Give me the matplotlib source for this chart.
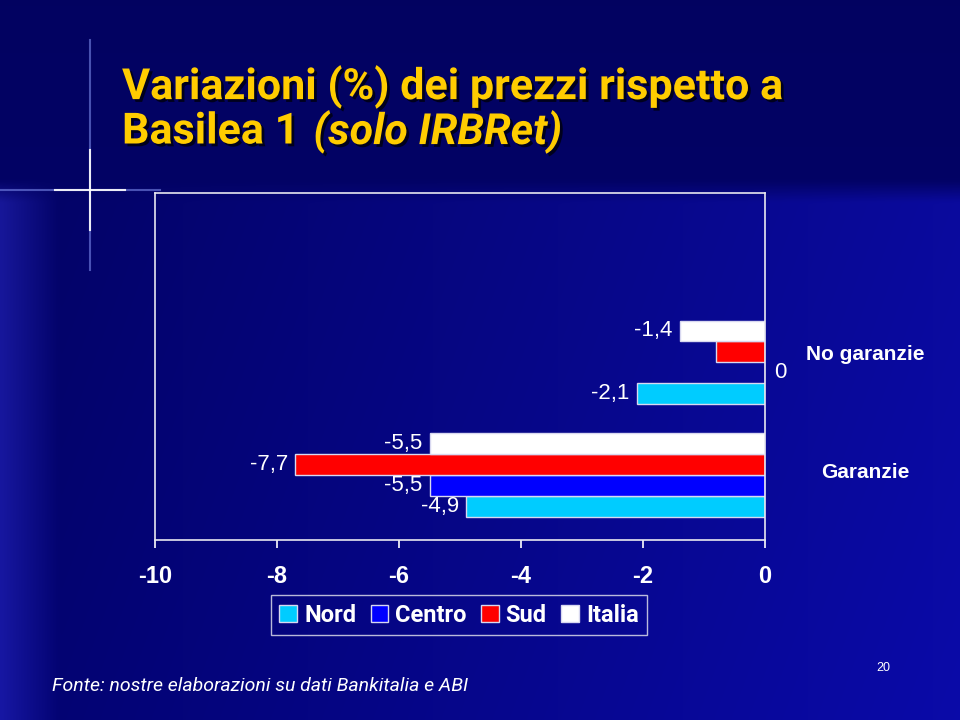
import numpy as np
import matplotlib
matplotlib.use('Agg')
import matplotlib.pyplot as plt
import matplotlib.patheffects as pe
from matplotlib.patches import Patch

# data
categories = ['Garanzie', 'No garanzie']
series = ['Nord', 'Centro', 'Sud', 'Italia']
nord = [-4.9, -2.1]
centro = [-5.5, 0.0]
sud = [-7.7, -0.8]
italia = [-5.5, -1.4]
nord_lab = ['-4,9', '-2,1']
centro_lab = ['-5,5', '0']
sud_lab = ['-7,7', '']
italia_lab = ['-5,5', '-1,4']
xticks = [-10, -8, -6, -4, -2, 0]

colors = ['#00ccff', '#0000ff', '#ff0000', '#ffffff']
NARROW = ['Roboto', 'DejaVu Sans']
ARIAL = ['Liberation Sans', 'DejaVu Sans']

fig = plt.figure(figsize=(9.6, 7.2), dpi=100)

# slide background
bg = fig.add_axes([0, 0, 1, 1])
bg.set_axis_off()
yy, xx = np.mgrid[0:1:240j, 0:1:320j]
low = np.clip((yy - 0.25) / 0.03, 0, 1)
r = 0.01 + 0.03 * xx * low
g = 0.01 + 0.03 * xx * low
b = 0.38 + 0.06 * yy + 0.22 * xx * low
left = np.clip((0.06 - xx) / 0.06, 0, 1) * low
r = r + 0.08 * left
g = g + 0.08 * left
b = b + 0.2 * left
img = np.dstack([r, g, b]).clip(0, 1)
bg.imshow(img, extent=[0, 960, 720, 0], aspect='auto', interpolation='bicubic')
bg.set_xlim(0, 960)
bg.set_ylim(720, 0)
# decorative cross
bg.plot([90, 90], [40, 270], color='#8fa0ff', lw=1.5, alpha=0.5)
bg.plot([0, 160], [190, 190], color='#8fa0ff', lw=1.5, alpha=0.5)
bg.plot([90, 90], [150, 230], color='white', lw=1.5, alpha=0.9)
bg.plot([55, 125], [190, 190], color='white', lw=1.5, alpha=0.9)

# chart
ax = fig.add_axes([155 / 960, 1 - 540 / 720, 610 / 960, 347 / 720])
ax.set_facecolor('none')
h = 0.185
offsets = [-1.5, -0.5, 0.5, 1.5]
y = np.arange(len(categories))
all_vals = [nord, centro, sud, italia]
all_labs = [nord_lab, centro_lab, sud_lab, italia_lab]
for vals, labs, col, off, name in zip(all_vals, all_labs, colors, offsets, series):
    pos = y + off * h
    ax.barh(pos, vals, height=h, color=col, edgecolor='#d8d8f0', linewidth=1, label=name)
    for p, v, t in zip(pos, vals, labs):
        if v < 0:
            ax.text(v - 0.12, p, t, ha='right', va='center', color='white',
                    fontsize=16, family=ARIAL)
        else:
            ax.text(v + 0.15, p, t, ha='left', va='center', color='white',
                    fontsize=16, family=ARIAL)

ax.set_xlim(-10, 0)
ax.set_ylim(-0.575, 2.5)
ax.set_xticks(xticks)
ax.set_xticklabels([str(t) for t in xticks], fontsize=17, fontweight='bold',
                   color='white', family=ARIAL)
ax.tick_params(axis='x', colors='white', length=6, width=1.2, pad=12)
ax.set_yticks([])
# category names sit to the right of the zero line
for yc, name, dy in zip(y, categories, [0.02, 0.07]):
    ax.text(1.164, yc + dy, name, transform=ax.get_yaxis_transform(), ha='center',
            va='center', fontsize=15, fontweight='bold', color='white', family=ARIAL)
for s in ax.spines.values():
    s.set_color('#e8e8f0')
    s.set_linewidth(1.2)

handles = [Patch(facecolor=c, edgecolor='#d8d8f0', label=s) for c, s in zip(colors, series)]
leg = fig.legend(handles=handles, loc='center', bbox_to_anchor=(459 / 960, 1 - 615 / 720),
                 ncol=4, frameon=True, fancybox=False, handlelength=0.75, handleheight=0.75,
                 handletextpad=0.3, columnspacing=0.6, borderpad=0.35,
                 prop={'family': NARROW, 'weight': 'bold', 'size': 17})
leg.get_frame().set_facecolor('none')
leg.get_frame().set_edgecolor('#e8e8f0')
for t in leg.get_texts():
    t.set_color('white')

# title
shadow = [pe.withSimplePatchShadow(offset=(2, -2), shadow_rgbFace='black', alpha=0.7)]
tkw = dict(color='#ffcc00', fontsize=31, fontweight='bold', family=NARROW,
           va='center', path_effects=shadow)
fig.text(122 / 960, 1 - 87 / 720, 'Variazioni (%) dei prezzi rispetto a', **tkw)
t2 = fig.text(122 / 960, 1 - 132 / 720, 'Basilea 1 ', **tkw)
bb = t2.get_window_extent(renderer=fig.canvas.get_renderer())
fig.text(bb.x1 / 960 + 0.004, 1 - 132 / 720, '(solo IRBRet)', style='italic', **tkw)

fig.text(52 / 960, 1 - 686 / 720, 'Fonte: nostre elaborazioni su dati Bankitalia e ABI',
         color='white', fontsize=14, style='italic', family=NARROW, va='center')
fig.text(883 / 960, 1 - 668 / 720, '20', color='white', fontsize=9, ha='center',
         va='center', family=ARIAL)

fig.savefig('out.png', dpi=100)
